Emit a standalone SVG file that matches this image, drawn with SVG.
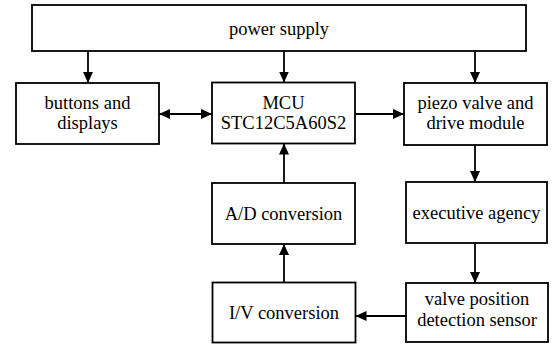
<svg xmlns="http://www.w3.org/2000/svg" width="552" height="345" viewBox="0 0 552 345">
  <style>
    .box { fill: #ffffff; stroke: #000000; stroke-width: 1.8; }
    .lbl { font-family: "Liberation Serif", "Times New Roman", serif; font-size: 18.5px; fill: #000000; text-anchor: middle; }
    .wire { fill: none; stroke: #000000; stroke-width: 1.8; }
  </style>
  <defs>
    <marker id="arrow" markerUnits="userSpaceOnUse" markerWidth="12" markerHeight="10" refX="11" refY="5" orient="auto-start-reverse">
      <path d="M0,0 L11,5 L0,10 Z" fill="#000000"/>
    </marker>
  </defs>

  <rect width="552" height="345" fill="#ffffff"/>

  <g id="power-supply">
    <rect class="box" x="32" y="5" width="494" height="46"/>
    <text class="lbl" x="279" y="34.5">power supply</text>
  </g>

  <g id="buttons-displays">
    <rect class="box" x="16" y="83" width="143" height="61"/>
    <text class="lbl" x="87.5" y="108.5">buttons and</text>
    <text class="lbl" x="87.5" y="129">displays</text>
  </g>

  <g id="mcu">
    <rect class="box" x="212" y="82.5" width="143" height="61"/>
    <text class="lbl" x="283.5" y="108.5">MCU</text>
    <text class="lbl" x="283.5" y="129">STC12C5A60S2</text>
  </g>

  <g id="piezo-valve">
    <rect class="box" x="404" y="83" width="143" height="62"/>
    <text class="lbl" x="475.5" y="108.5">piezo valve and</text>
    <text class="lbl" x="475.5" y="129">drive module</text>
  </g>

  <g id="ad-conversion">
    <rect class="box" x="212" y="183" width="143" height="61"/>
    <text class="lbl" x="283.5" y="220">A/D conversion</text>
  </g>

  <g id="executive-agency">
    <rect class="box" x="406" y="182" width="141" height="61"/>
    <text class="lbl" x="476.5" y="219">executive agency</text>
  </g>

  <g id="iv-conversion">
    <rect class="box" x="212.5" y="282.5" width="143" height="60"/>
    <text class="lbl" x="284" y="318.5">I/V conversion</text>
  </g>

  <g id="position-sensor">
    <rect class="box" x="406" y="283" width="142" height="59"/>
    <text class="lbl" x="477" y="305">valve position</text>
    <text class="lbl" x="477" y="325.5">detection sensor</text>
  </g>

  <g id="connectors">
    <line class="wire" x1="88" y1="51" x2="88" y2="83" marker-end="url(#arrow)"/>
    <line class="wire" x1="284" y1="51" x2="284" y2="82.5" marker-end="url(#arrow)"/>
    <line class="wire" x1="475" y1="51" x2="475" y2="83" marker-end="url(#arrow)"/>
    <line class="wire" x1="159" y1="114" x2="212" y2="114" marker-start="url(#arrow)" marker-end="url(#arrow)"/>
    <line class="wire" x1="355" y1="114" x2="404" y2="114" marker-end="url(#arrow)"/>
    <line class="wire" x1="284" y1="183" x2="284" y2="143.5" marker-end="url(#arrow)"/>
    <line class="wire" x1="284" y1="282.5" x2="284" y2="244" marker-end="url(#arrow)"/>
    <line class="wire" x1="475" y1="145" x2="475" y2="182" marker-end="url(#arrow)"/>
    <line class="wire" x1="475" y1="243" x2="475" y2="283" marker-end="url(#arrow)"/>
    <line class="wire" x1="406" y1="316" x2="355.5" y2="316" marker-end="url(#arrow)"/>
  </g>
</svg>
